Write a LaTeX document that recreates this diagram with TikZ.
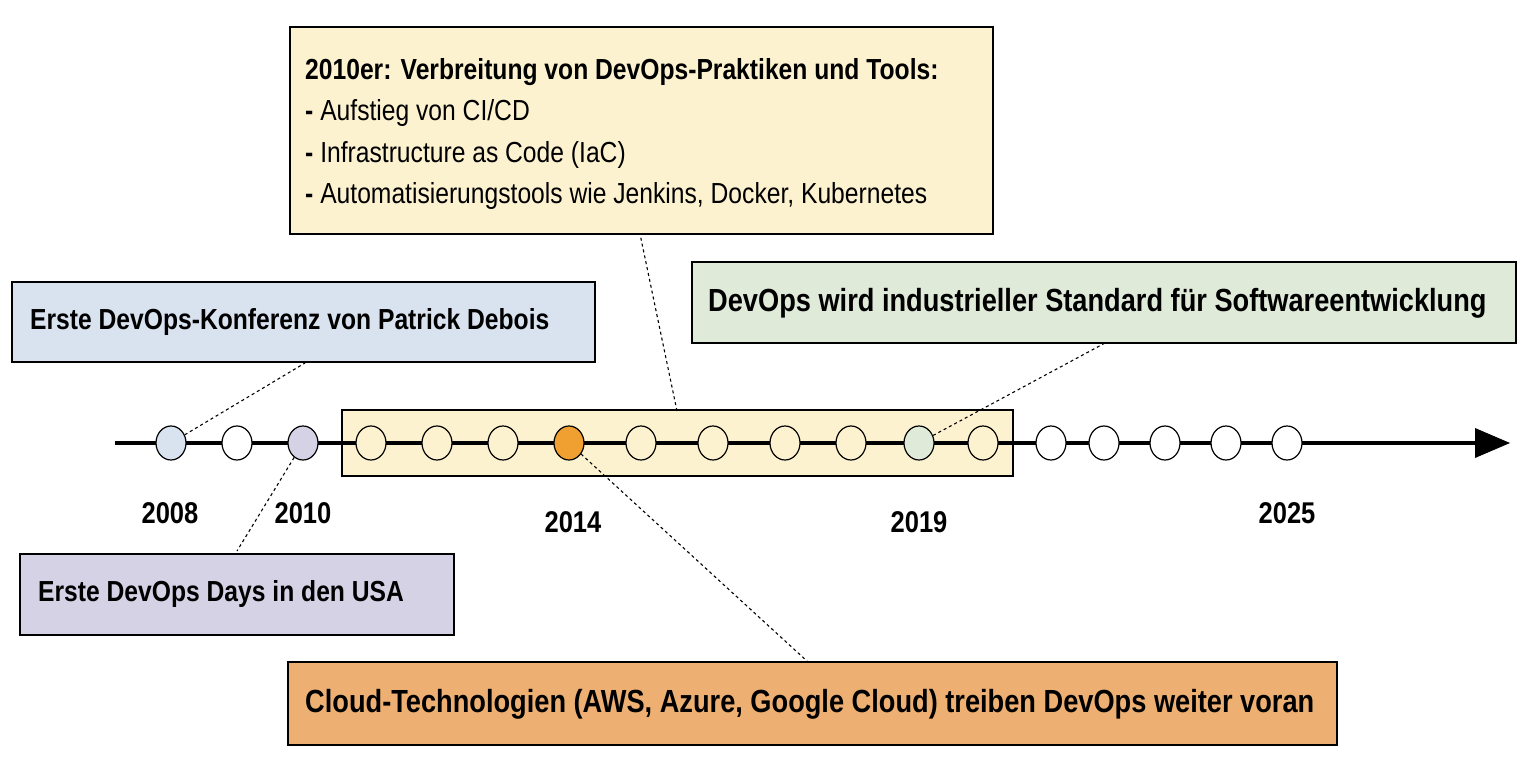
\documentclass[tikz,border=0pt]{standalone}
\usepackage{fontspec}
\setmainfont{Liberation Sans}[FakeStretch=0.85]
\usetikzlibrary{shapes.geometric}
\begin{document}
\begin{tikzpicture}[x=1pt,y=-1pt,
 box/.style={draw=black,line width=1.2pt,anchor=north west},
 lbl/.style={anchor=west,inner sep=0pt,font=\fontsize{29}{34}\selectfont\bfseries},
 yr/.style={font=\fontsize{30}{34}\selectfont\bfseries},
 dot/.style={draw=black,line width=1.2pt,ellipse,minimum width=30pt,minimum height=34pt,inner sep=0pt,fill=white},
 con/.style={dashed,line width=1.1pt}]
\definecolor{cy}{HTML}{FDF2D0}\definecolor{cb}{HTML}{D9E2EF}\definecolor{cg}{HTML}{DFEAD9}
\definecolor{cl}{HTML}{D6D2E5}\definecolor{co}{HTML}{EDB072}\definecolor{cdot}{HTML}{F0A030}
\useasboundingbox (0,0) rectangle (1534,778);
\fill[cy,draw=black,line width=1.2pt] (342,410) rectangle (1013,476);
\draw[line width=4pt] (115,443) -- (1480,443);
\fill (1475,428) -- (1510,443) -- (1475,458) -- cycle;
\foreach \x/\c [count=\i] in {171/cb,237/white,303/cl,371/cy,437/cy,503/cy,569/cdot,641/cy,713/cy,785/cy,851/cy,919/cg,983/cy,1051/white,1104/white,1165/white,1226/white,1287/white}
  \node[dot,fill=\c] (d\i) at (\x,443) {};
\node[yr] at (170,513) {2008};
\node[yr] at (303,513) {2010};
\node[yr] at (573,522) {2014};
\node[yr] at (919,522) {2019};
\node[yr] at (1287,513) {2025};
\draw[box,fill=cy] (290,27) rectangle (993,234);
\node[anchor=north west,align=left,font=\fontsize{29}{41.5}\selectfont,inner sep=0pt] (b1) at (305,58)
 {{\bfseries 2010er: Verbreitung von DevOps-Praktiken und Tools:}\\
  \textbf{-} Aufstieg von CI/CD\\ \textbf{-} Infrastructure as Code (IaC)\\ \textbf{-} Automatisierungstools wie Jenkins, Docker, Kubernetes};
\draw[box,fill=cb] (12,282) rectangle (595,362);
\node[lbl] (b2) at (30,322) {Erste DevOps-Konferenz von Patrick Debois};
\draw[box,fill=cg] (692,262) rectangle (1516,343);
\node[lbl,font=\fontsize{32}{36}\selectfont\bfseries] (b3) at (708,303) {DevOps wird industrieller Standard für Softwareentwicklung};
\draw[box,fill=cl] (20,554) rectangle (454,635);
\node[lbl] (b4) at (38,594) {Erste DevOps Days in den USA};
\draw[box,fill=co] (288,662) rectangle (1337,745);
\node[lbl,font=\fontsize{32}{36}\selectfont\bfseries] (b5) at (305,704) {Cloud-Technologien (AWS, Azure, Google Cloud) treiben DevOps weiter voran};
\coordinate (p1) at (305,363); \coordinate (p2) at (237,551); \coordinate (p3) at (640,234);
\coordinate (p4) at (1105,343); \coordinate (p5) at (808,662); \coordinate (r) at (677,411);
\draw[con] (d1) -- (p1);
\draw[con] (d3) -- (p2);
\draw[con] (r) -- (p3);
\draw[con] (d12) -- (p4);
\draw[con] (d7) -- (p5);
\end{tikzpicture}
\end{document}
